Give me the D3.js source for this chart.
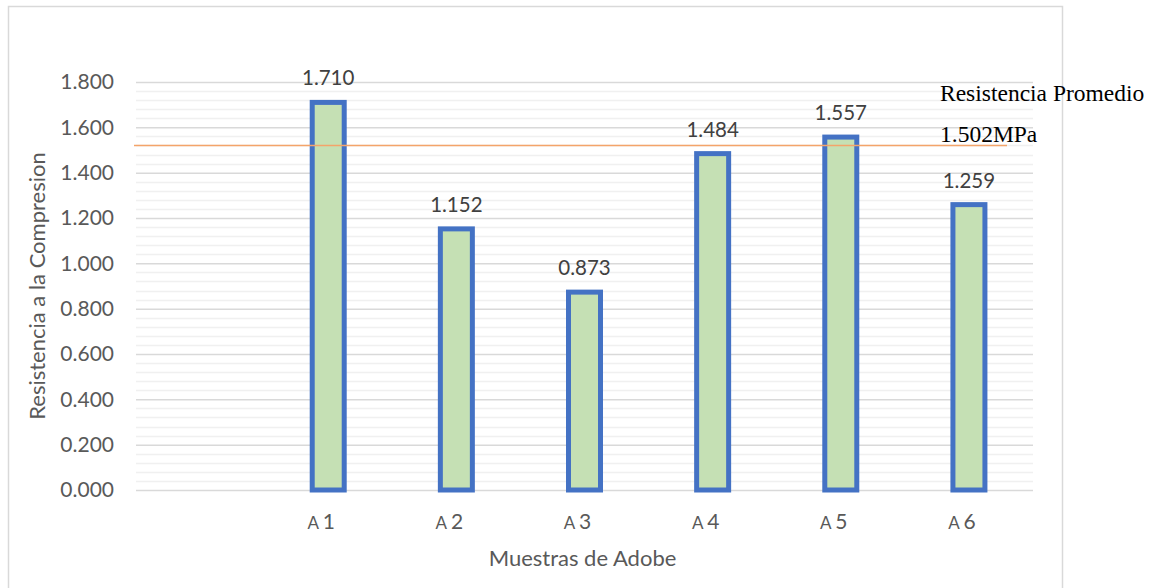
<html>
<head>
<script src="https://cdnjs.cloudflare.com/ajax/libs/d3/7.8.5/d3.min.js"></script>
<style>
body { margin:0; background:#fff; }
text { font-family: Lato, "Open Sans", sans-serif; }
</style>
</head>
<body>
<svg id="plot"></svg>
<script>
// data
var categories = ["", "1", "2", "3", "4", "5", "6"];
var values = [null, 1.710, 1.152, 0.873, 1.484, 1.557, 1.259];
var yTicks = [0, 0.2, 0.4, 0.6, 0.8, 1.0, 1.2, 1.4, 1.6, 1.8];
var avgLine = 1.52;
var avgText = ["Resistencia Promedio", "1.502MPa"];

var screen = {width:1164, height:588};
var margins = {top:82, bottom:98, left:136, right:131};
var graph = {
    width: screen.width - margins.left - margins.right,
    height: screen.height - margins.top - margins.bottom
};

var svg = d3.select("#plot")
    .attr("width", screen.width)
    .attr("height", screen.height);

// chart border
svg.append("rect")
    .attr("x", 8.5).attr("y", 6.5)
    .attr("width", 1054).attr("height", 600)
    .attr("fill", "none")
    .attr("stroke", "#d9d9d9")
    .attr("stroke-width", 1.5);

var g = svg.append("g")
    .attr("transform", "translate(" + margins.left + "," + margins.top + ")");

var xScale = d3.scaleBand()
    .domain(categories.map(function(d, i) { return i; }))
    .range([0, graph.width]);

var yScale = d3.scaleLinear()
    .domain([0, 1.8])
    .range([graph.height, 0]);

// minor gridlines
var minor = d3.range(0, 1.8001, 0.04).filter(function(v) {
    return Math.abs(v / 0.2 - Math.round(v / 0.2)) > 0.01;
});
g.selectAll(".minor")
    .data(minor)
    .enter().append("line")
    .attr("x1", 0).attr("x2", graph.width)
    .attr("y1", function(d) { return Math.round(yScale(d)) + 0.5; })
    .attr("y2", function(d) { return Math.round(yScale(d)) + 0.5; })
    .attr("stroke", "#f0f0f0")
    .attr("stroke-width", 1.3);

// major gridlines + tick labels via axis
var yAxis = d3.axisLeft(yScale)
    .tickValues(yTicks)
    .tickSize(-graph.width)
    .tickPadding(22)
    .tickFormat(d3.format(".3f"));

var ya = g.append("g").call(yAxis);
ya.select(".domain").remove();
ya.selectAll("line").attr("stroke", "#d9d9d9").attr("stroke-width", 1.5);
ya.selectAll("text")
    .attr("fill", "#595959")
    .style("font-size", "21px");

// bars
g.selectAll(".bar")
    .data(values.map(function(v, i) { return {i:i, v:v}; }).filter(function(d) { return d.v != null; }))
    .enter().append("rect")
    .attr("x", function(d) { return xScale(d.i) + xScale.bandwidth() / 2 - 16; })
    .attr("width", 32)
    .attr("y", function(d) { return yScale(d.v); })
    .attr("height", function(d) { return graph.height - yScale(d.v); })
    .attr("fill", "#c5e0b4")
    .attr("stroke", "#4472c4")
    .attr("stroke-width", 5);

// value labels
g.selectAll(".vlab")
    .data(values.map(function(v, i) { return {i:i, v:v}; }).filter(function(d) { return d.v != null; }))
    .enter().append("text")
    .attr("x", function(d) { return xScale(d.i) + xScale.bandwidth() / 2; })
    .attr("y", function(d) { return yScale(d.v) - 17; })
    .attr("text-anchor", "middle")
    .attr("fill", "#404040")
    .style("font-size", "20.5px")
    .text(function(d) { return d3.format(".3f")(d.v); });

// average line
g.append("line")
    .attr("x1", -2).attr("x2", 871)
    .attr("y1", yScale(avgLine)).attr("y2", yScale(avgLine))
    .attr("stroke", "#f4a46a")
    .attr("stroke-width", 1.5);

svg.selectAll(".avg")
    .data(avgText)
    .enter().append("text")
    .attr("x", 940)
    .attr("y", function(d, i) { return 101 + i * 41; })
    .attr("fill", "#000")
    .style("font-family", "'Liberation Serif', serif")
    .style("font-size", "23.5px")
    .text(function(d) { return d; });

// category labels
var xl = g.selectAll(".xlab")
    .data(categories.map(function(c, i) { return {i:i, c:c}; }).filter(function(d) { return d.c !== ""; }))
    .enter().append("text")
    .attr("x", function(d) { return xScale(d.i) + xScale.bandwidth() / 2 - 7; })
    .attr("y", graph.height + 39)
    .attr("text-anchor", "middle")
    .attr("fill", "#595959");
xl.append("tspan").style("font-size", "17px").text("A ");
xl.append("tspan").style("font-size", "21px").text(function(d) { return d.c; });

// axis titles
svg.append("text")
    .attr("x", margins.left + graph.width / 2 - 2)
    .attr("y", 566)
    .attr("text-anchor", "middle")
    .attr("fill", "#595959")
    .style("font-size", "22px")
    .text("Muestras de Adobe");

svg.append("text")
    .attr("transform", "translate(45," + (margins.top + graph.height / 2) + ") rotate(-90)")
    .attr("text-anchor", "middle")
    .attr("fill", "#595959")
    .style("font-size", "22px")
    .text("Resistencia a la Compresion");
</script>
</body>
</html>
